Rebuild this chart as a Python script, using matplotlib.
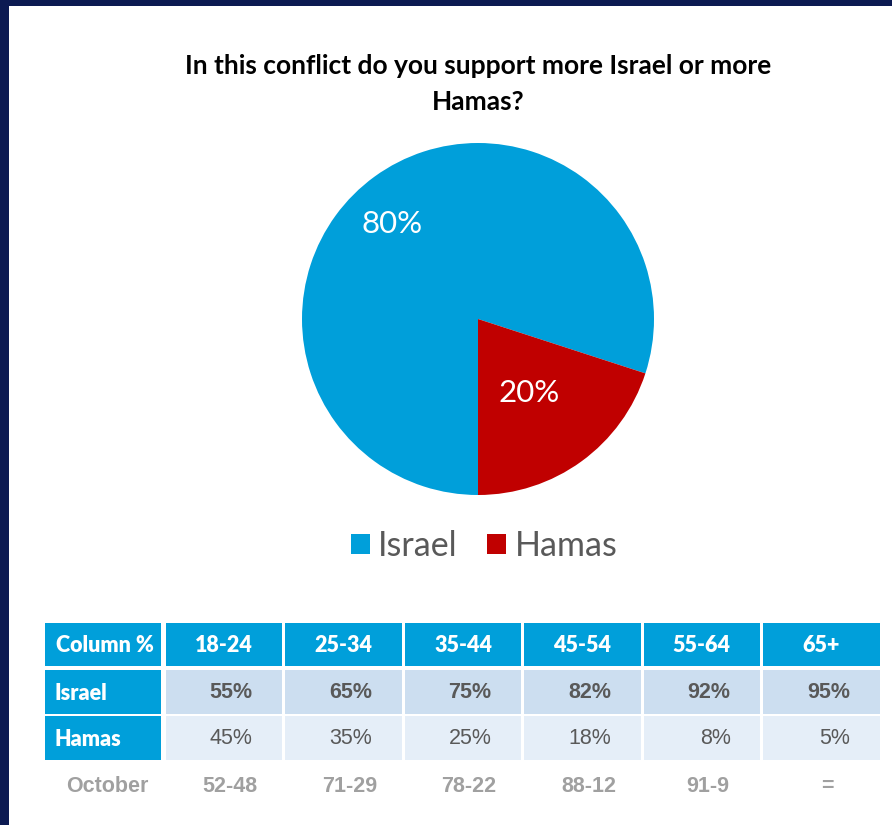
import numpy as np
import matplotlib
matplotlib.use("Agg")
import matplotlib.pyplot as plt
from matplotlib.patches import Rectangle, Patch

# ---------------- data ----------------
title = "In this conflict do you support more Israel or more\nHamas?"
pie_labels = ["Israel", "Hamas"]
pie_values = [80, 20]

col_header = "Column %"
age_groups = ["18-24", "25-34", "35-44", "45-54", "55-64", "65+"]
row_labels = ["Israel", "Hamas"]
israel_pct = [55, 65, 75, 82, 92, 95]
hamas_pct = [45, 35, 25, 18, 8, 5]
october_label = "October"
october_vals = ["52-48", "71-29", "78-22", "88-12", "91-9", "="]

# ---------------- style ----------------
W, H = 892, 825
DPI = 100
NAVY = "#0C1A52"
BLUE = "#009FDA"
RED = "#C00000"
ROW1 = "#CCDEF0"
ROW2 = "#E5EEF8"
VAL = "#595959"
OCT = "#A0A0A0"
TFONT = ["Lato", "DejaVu Sans"]
NFONT = ["Liberation Sans", "DejaVu Sans"]

fig = plt.figure(figsize=(W / DPI, H / DPI), dpi=DPI)
fig.patch.set_facecolor("white")

# base axes in pixel coordinates
base = fig.add_axes([0, 0, 1, 1])
base.set_xlim(0, W)
base.set_ylim(H, 0)
base.axis("off")

# navy frame (left and top)
base.add_patch(Rectangle((0, 0), 9, H, color=NAVY, lw=0))
base.add_patch(Rectangle((0, 0), W, 6, color=NAVY, lw=0))

# title
base.text(478, 84, title, ha="center", va="center", fontsize=19,
          fontweight="bold", family=TFONT, color="black", linespacing=1.55)

# ---------------- pie ----------------
cx, cy, r = 478, 319, 176
ax = fig.add_axes([(cx - r) / W, 1 - (cy + r) / H, 2 * r / W, 2 * r / H])
wedges, _ = ax.pie(pie_values, colors=[BLUE, RED], startangle=270,
                   counterclock=False, radius=1,
                   wedgeprops=dict(linewidth=0))
ax.set_xlim(-1, 1)
ax.set_ylim(-1, 1)
ax.set_aspect("equal")
ax.axis("off")

label_dist = [0.728, 0.51]
label_rot = [6.0, -1.5]
for w, v, d, a in zip(wedges, pie_values, label_dist, label_rot):
    mid = np.deg2rad((w.theta1 + w.theta2) / 2 + a)
    ax.text(d * np.cos(mid), d * np.sin(mid), f"{v}%", ha="center",
            va="center", color="white", fontsize=22.5, family=TFONT)

# legend
handles = [Patch(facecolor=c, edgecolor="none") for c in [BLUE, RED]]
leg = fig.legend(handles, pie_labels, loc="center",
                 bbox_to_anchor=(484 / W, 1 - 546 / H), ncol=2,
                 frameon=False, handlelength=0.56, handleheight=0.56,
                 handletextpad=0.24, columnspacing=0.88,
                 prop=dict(family=TFONT, size=24.5))
for t in leg.get_texts():
    t.set_color(VAL)

# ---------------- table ----------------
x0, x1 = 45, 881
ncol = len(age_groups) + 1
cw = (x1 - x0) / ncol
gap = 3
row_tops = [623, 670, 716]
row_h = [43, 44, 44]

def cell(ci, ri, color):
    base.add_patch(Rectangle((x0 + ci * cw + (gap / 2 if ci else 0), row_tops[ri]),
                             cw - gap, row_h[ri], facecolor=color, lw=0))

def center_y(ri):
    return row_tops[ri] + row_h[ri] / 2

# header row
for ci, lab in enumerate([col_header] + age_groups):
    cell(ci, 0, BLUE)
    base.text(x0 + ci * cw + cw / 2, center_y(0) + 1, lab, ha="center",
              va="center", color="white", fontsize=15.5, fontweight="heavy",
              family=TFONT)

# data rows
for ri, (lab, vals, fw) in enumerate(zip(row_labels, [israel_pct, hamas_pct],
                                         ["bold", "normal"]), start=1):
    cell(0, ri, BLUE)
    base.text(x0 + 9, center_y(ri) + 1, lab, ha="left", va="center",
              color="white", fontsize=15.5, fontweight="heavy", family=TFONT)
    for ci, v in enumerate(vals, start=1):
        cell(ci, ri, ROW1 if ri == 1 else ROW2)
        base.text(x0 + (ci + 1) * cw - 31, center_y(ri) + 1, f"{v}%",
                  ha="right", va="center", color=VAL, fontsize=15.5,
                  fontweight=fw, family=NFONT)

# October row
oy = 787
base.text(x0 + cw / 2 + 3, oy, october_label, ha="center", va="center",
          color=OCT, fontsize=15.5, fontweight="bold", family=NFONT)
for ci, v in enumerate(october_vals, start=1):
    base.text(x0 + ci * cw + cw / 2 + 6, oy, v, ha="center", va="center",
              color=OCT, fontsize=15.5, fontweight="bold", family=NFONT)

fig.savefig("out.png", dpi=DPI, facecolor=fig.get_facecolor())
